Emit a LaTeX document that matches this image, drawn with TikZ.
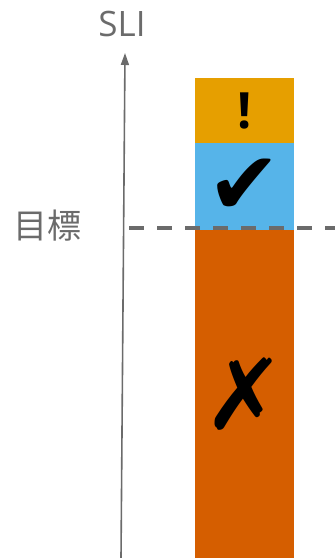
\documentclass[tikz,border=0pt]{standalone}
\usepackage{fontspec}
\setmainfont{Open Sans}
\newfontfamily\cjk{Noto Sans CJK JP}
\newfontfamily\symfont{DejaVu Sans}
\usetikzlibrary{arrows.meta}
\definecolor{axisgray}{HTML}{6B6B6B}
\definecolor{warnfill}{HTML}{E69F00}
\definecolor{okfill}{HTML}{56B4E9}
\definecolor{badfill}{HTML}{D55E00}

\begin{document}
\begin{tikzpicture}[x=1pt, y=-1pt,
	seg/.style={minimum width=99pt, inner sep=0pt, outer sep=0pt},
	lbl/.style={text=axisgray, inner sep=0pt}]
		\useasboundingbox (0,0) rectangle (335,558);
		% bar
		\node[seg, fill=warnfill, minimum height=65pt] (warn) at (244.5,110.5)
		{\fontsize{50}{50}\selectfont\bfseries !};
		\node[seg, fill=okfill, minimum height=87pt] (ok) at (244.5,186.5)
		{\fontsize{88}{88}\selectfont\symfont ✔};
		\node[seg, fill=badfill, minimum height=328pt] (bad) at (244.5,394)
		{\fontsize{98}{98}\selectfont\symfont\bfseries ✗};
		% axis
		\coordinate (base) at (121,558);
		\coordinate (tip) at (125,53);
		\draw[axisgray, line width=1.6pt, -{Triangle[length=12pt,width=8pt]}] (base) -- (tip);
		\node[lbl, font=\fontsize{35}{35}\selectfont] (sli) at (122,24) {SLI};
		% target
		\coordinate (goalstart) at (129,228);
		\coordinate (goalend) at (335,228);
		\draw[axisgray, line width=3.8pt, dash pattern=on 15pt off 13pt] (goalstart) -- (goalend);
		\node[lbl, font=\fontsize{34}{34}\selectfont\cjk] (goal) at (47,226) {目標};
\end{tikzpicture}
\end{document}
